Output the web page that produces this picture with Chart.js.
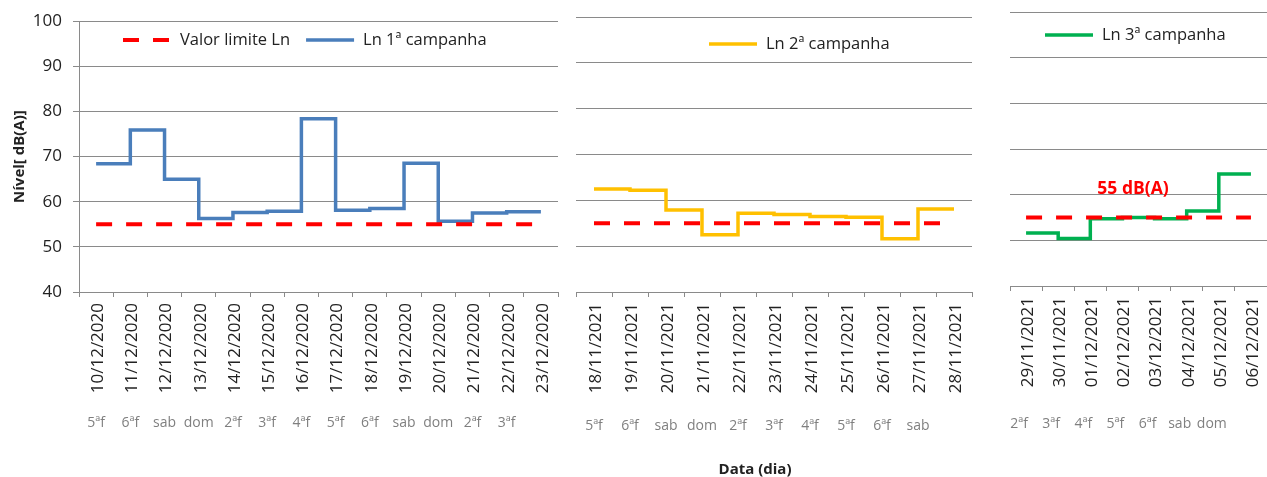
<!DOCTYPE html>
<html lang="pt">
<head>
<meta charset="utf-8">
<title>Nível Ln - campanhas</title>
<script src="https://cdn.jsdelivr.net/npm/chart.js@4/dist/chart.umd.min.js"></script>
<style>
  body { margin: 0; width: 1267px; height: 477px; overflow: hidden; background: #fff; position: relative; font-family: 'Open Sans', sans-serif; }
  canvas { position: absolute; top: 0; }
  .txt { position: absolute; white-space: nowrap; transform: translate(-50%, -50%); font-weight: bold; }
</style>
</head>
<body>
<canvas id="grafico1" width="570" height="477" style="left:0px"></canvas>
<canvas id="grafico2" width="410" height="477" style="left:570px"></canvas>
<canvas id="grafico3" width="267" height="477" style="left:1000px"></canvas>
<div class="txt" style="left:755px; top:468px; font-size:15px; color:#222;">Data (dia)</div>
<div class="txt" style="left:1133px; top:187px; font-size:17.5px; color:#ff0000;">55 dB(A)</div>

<script>
// 1ª campanha
const datas1 = ['10/12/2020','11/12/2020','12/12/2020','13/12/2020','14/12/2020','15/12/2020','16/12/2020',
                '17/12/2020','18/12/2020','19/12/2020','20/12/2020','21/12/2020','22/12/2020','23/12/2020'];
const dias1 = ['5ªf','6ªf','sab','dom','2ªf','3ªf','4ªf','5ªf','6ªf','sab','dom','2ªf','3ªf',''];
const ln1 = [68.4, 75.9, 65.0, 56.3, 57.6, 57.9, 78.4, 58.1, 58.5, 68.5, 55.7, 57.5, 57.8, 57.8];
const limite1 = [55, 55, 55, 55, 55, 55, 55, 55, 55, 55, 55, 55, 55, 55];

// 2ª campanha
const datas2 = ['18/11/2021','19/11/2021','20/11/2021','21/11/2021','22/11/2021','23/11/2021',
                '24/11/2021','25/11/2021','26/11/2021','27/11/2021','28/11/2021'];
const dias2 = ['5ªf','6ªf','sab','dom','2ªf','3ªf','4ªf','5ªf','6ªf','sab',''];
const ln2 = [62.5, 62.2, 57.9, 52.5, 57.2, 56.9, 56.5, 56.3, 51.6, 58.1, 58.1];
const limite2 = [55, 55, 55, 55, 55, 55, 55, 55, 55, 55, 55];

// 3ª campanha
const datas3 = ['29/11/2021','30/11/2021','01/12/2021','02/12/2021','03/12/2021','04/12/2021','05/12/2021','06/12/2021'];
const dias3 = ['2ªf','3ªf','4ªf','5ªf','6ªf','sab','dom',''];
const ln3 = [51.6, 50.4, 54.7, 55.0, 54.7, 56.4, 64.5, 64.5];
const limite3 = [55, 55, 55, 55, 55, 55, 55, 55];

const corGrelha = '#8a8a8a';
const corTexto = '#222';
Chart.defaults.font.family = "'Open Sans', sans-serif";

// legenda desenhada dentro da área do gráfico, com o estilo de cada dataset
const legendaInterna = {
  id: 'legendaInterna',
  afterDraw(chart, args, opts) {
    const ctx = chart.ctx;
    let x = opts.x;
    const y = opts.y;
    ctx.save();
    ctx.font = "16.5px 'Open Sans', sans-serif";
    ctx.textBaseline = 'middle';
    ctx.textAlign = 'left';
    opts.itens.forEach(i => {
      const ds = chart.data.datasets[i];
      ctx.beginPath();
      ctx.strokeStyle = ds.borderColor;
      ctx.lineWidth = ds.borderWidth;
      ctx.setLineDash(ds.borderDash || []);
      ctx.moveTo(x, y);
      ctx.lineTo(x + 48, y);
      ctx.stroke();
      ctx.setLineDash([]);
      ctx.fillStyle = corTexto;
      ctx.fillText(ds.label, x + 57, y);
      x += 57 + ctx.measureText(ds.label).width + 16;
    });
    ctx.restore();
  }
};

function linhaLimite(dados) {
  return {
    label: 'Valor limite Ln',
    data: dados,
    borderColor: '#ff0000',
    borderWidth: 4,
    borderDash: [16, 14],
    pointRadius: 0,
    fill: false
  };
}

function linhaLn(nome, dados, cor) {
  return {
    label: nome,
    data: dados,
    borderColor: cor,
    borderWidth: 3.5,
    stepped: 'before',
    pointRadius: 0,
    fill: false
  };
}

function montarGrafico(id, datas, dias, datasets, cfg) {
  const ctx = document.getElementById(id).getContext('2d');
  const eixoY = cfg.comEixoY ? {
    min: 40, max: 100,
    ticks: { stepSize: 10, padding: 11, color: corTexto, font: { size: 17 } },
    grid: { color: corGrelha, tickLength: 6 },
    border: { color: corGrelha },
    title: {
      display: true, text: 'Nível[ dB(A)]', color: corTexto,
      font: { size: 15, weight: 'bold' }, padding: { top: 11, bottom: 0 }
    },
    afterFit: s => { s.width = 79; }
  } : {
    min: 40, max: 100,
    ticks: { display: false, stepSize: 10 },
    grid: { color: corGrelha, drawTicks: false },
    border: { display: false },
    afterFit: s => { s.width = 0; }
  };

  return new Chart(ctx, {
    type: 'line',
    data: { labels: datas, datasets: datasets },
    options: {
      responsive: false,
      animation: false,
      layout: { padding: cfg.padding },
      scales: {
        x: {
          offset: true,
          grid: { drawOnChartArea: false, offset: true, tickLength: 5, color: corGrelha },
          border: { color: corGrelha },
          ticks: {
            autoSkip: false, minRotation: 90, maxRotation: 90, padding: 6, labelOffset: 2,
            color: corTexto, font: { size: 17 }
          },
          afterFit: s => { s.height = 103; s.paddingLeft = 0; s.paddingRight = 0; }
        },
        x2: {
          type: 'category',
          position: 'bottom',
          labels: dias,
          offset: true,
          grid: { display: false, drawTicks: false },
          border: { display: false },
          ticks: {
            autoSkip: false, maxRotation: 0, padding: cfg.padDias, labelOffset: cfg.offDias || 0,
            color: '#7f7f7f', font: { size: 14 }
          },
          afterFit: s => { s.height = 60; s.paddingLeft = 0; s.paddingRight = 0; }
        },
        y: eixoY
      },
      plugins: {
        legend: { display: false },
        tooltip: { enabled: false },
        legendaInterna: cfg.legenda
      }
    },
    plugins: [legendaInterna]
  });
}

montarGrafico('grafico1', datas1, dias1,
  [linhaLimite(limite1), linhaLn('Ln 1ª campanha', ln1, '#4a7ebb')],
  { comEixoY: true, padding: { top: 16, right: 12, bottom: 22, left: 0 }, padDias: 20,
    legenda: { x: 123, y: 40, itens: [0, 1] } });

montarGrafico('grafico2', datas2, dias2,
  [linhaLimite(limite2), linhaLn('Ln 2ª campanha', ln2, '#ffc000')],
  { comEixoY: false, padding: { top: 17, right: 8, bottom: 22, left: 6 }, padDias: 23,
    legenda: { x: 139, y: 44, itens: [1] } });

montarGrafico('grafico3', datas3, dias3,
  [linhaLimite(limite3), linhaLn('Ln 3ª campanha', ln3, '#00b050')],
  { comEixoY: false, padding: { top: 12, right: 0, bottom: 28, left: 10 }, padDias: 27, offDias: -7,
    legenda: { x: 45, y: 35, itens: [1] } });
</script>
</body>
</html>
